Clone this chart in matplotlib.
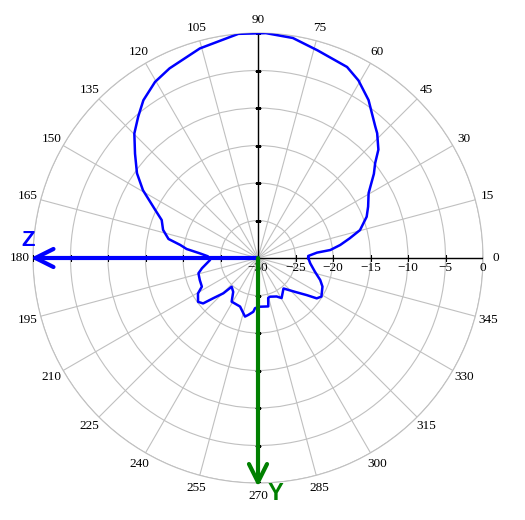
"""
안테나 방사 패턴 극좌표 그래프
"""

import numpy as np
import matplotlib
matplotlib.use('Agg')
import matplotlib.pyplot as plt

# 방사 패턴 데이터 (각도: 도, 이득: dB)
angles_deg = [
    0, 2.3, 5.2, 6.3, 9, 12.1, 15.3, 20.8, 25, 30.4, 36, 39, 42, 46.3, 48.3,
    55, 60.5, 65, 74, 81, 88, 95, 105.5, 115, 120.3, 126, 130.3, 134.8,
    139.7, 145, 149.5, 155, 158.5, 163.5, 168, 170.5, 172.8, 175.4, 178,
    182.4, 190.4, 194.4, 200.8, 207, 210.6, 216.2, 219.6, 222, 225.5, 227.5,
    233.8, 238.9, 249.7, 257.5, 260.3, 265, 266.6, 272, 282, 284.3, 287.2,
    295.8, 300.5, 309.9, 317.6, 322.8, 325.5, 328.7, 336.1, 340.5, 346.5,
    354.2, 360,
]
gain_db = [
    -23.3, -23.3, -22.1, -20.3, -18.9, -17.5, -15.9, -14.5, -13.8, -12.9,
    -10.9, -9.9, -8.4, -7.0, -6.5, -4.3, -2.8, -1.9, -1.2, -0.3, 0.0, 0.0,
    -1.0, -2.1, -2.8, -4.0, -5.3, -6.6, -8.5, -10.3, -12.2, -14.9, -16.2,
    -16.8, -17.8, -19.5, -20.4, -22.2, -23.3, -23.6, -22.4, -21.8, -21.7,
    -21.6, -20.7, -20.1, -20.5, -22.0, -23.4, -24.8, -24.4, -23.2, -23.1,
    -22.0, -22.3, -22.8, -23.3, -23.5, -23.4, -24.5, -24.6, -24.3, -23.8,
    -24.7, -23.3, -21.8, -20.5, -20.1, -20.6, -21.2, -22.2, -23.0, -23.3,
]

angle_labels = list(range(0, 360, 15))
radial_ticks = [-30, -25, -20, -15, -10, -5, 0]

R_MIN, R_MAX = -30, 0
GRID_COLOR = '#c0c0c0'
LABEL_FONT = 'Liberation Serif'
LABEL_SIZE = 9.5


def create_polar_plot():
    fig = plt.figure(figsize=(5.25, 5.2), dpi=100)
    ax = fig.add_axes([33 / 525, 37 / 520, 450 / 525, 450 / 520],
                      projection='polar')

    ax.set_theta_zero_location('E')
    ax.set_theta_direction(1)
    ax.set_ylim(R_MIN, R_MAX)

    # 격자 (15도 간격 방사선, 5 dB 간격 원)
    ax.set_thetagrids(angle_labels, labels=[''] * len(angle_labels))
    ax.set_rgrids(radial_ticks[1:], labels=[''] * (len(radial_ticks) - 1))
    ax.grid(color=GRID_COLOR, linewidth=0.8)
    ax.spines['polar'].set_color(GRID_COLOR)
    ax.spines['polar'].set_linewidth(0.8)
    ax.tick_params(length=0)

    # 십자 축과 눈금
    for th in [0, 90, 180, 270]:
        rad = np.radians(th)
        ax.plot([rad, rad], [R_MIN, R_MAX], color='black', lw=1, zorder=3)
        marker = '|' if th in (0, 180) else '_'
        ax.plot([rad] * (len(radial_ticks) - 1), radial_ticks[1:],
                ls='none', marker=marker, ms=5, mew=0.8, color='black',
                zorder=3)

    # 방사 패턴
    ax.plot(np.radians(angles_deg), gain_db, color='#0000ff', lw=1.8,
            zorder=4)

    # 반경 눈금 라벨
    for r in radial_ticks:
        ax.annotate(str(r).replace('-', '\u2212'), xy=(0, r),
                    xytext=(0, -10), textcoords='offset pixels',
                    ha='center', va='center', fontsize=LABEL_SIZE,
                    family=LABEL_FONT, zorder=5)

    # 각도 라벨
    for a in angle_labels:
        ax.text(np.radians(a), 1.73, str(a), ha='center', va='center',
                fontsize=LABEL_SIZE, family=LABEL_FONT)

    # Z, Y 축 화살표
    arrow_style = '->,head_length=13,head_width=6.5'
    ax.annotate('', xy=(np.pi, 0.3), xytext=(np.pi, R_MIN),
                arrowprops=dict(arrowstyle=arrow_style, color='#0000ff',
                                lw=3, shrinkA=0, shrinkB=0,
                                mutation_scale=1),
                annotation_clip=False, zorder=6)
    ax.annotate('', xy=(1.5 * np.pi, 0.5), xytext=(1.5 * np.pi, R_MIN),
                arrowprops=dict(arrowstyle=arrow_style, color='#008000',
                                lw=3, shrinkA=0, shrinkB=0,
                                mutation_scale=1),
                annotation_clip=False, zorder=6)

    fig.text(28 / 525, 1 - 240 / 520, 'Z', color='#0000ff', fontsize=16,
             fontweight='bold', family='Liberation Sans',
             ha='center', va='center')
    fig.text(275 / 525, 1 - 494 / 520, 'Y', color='#008000', fontsize=17,
             fontweight='bold', family='Liberation Sans',
             ha='center', va='center')

    fig.savefig('out.png', dpi=100)
    return fig, ax


def main():
    create_polar_plot()


if __name__ == '__main__':
    main()
